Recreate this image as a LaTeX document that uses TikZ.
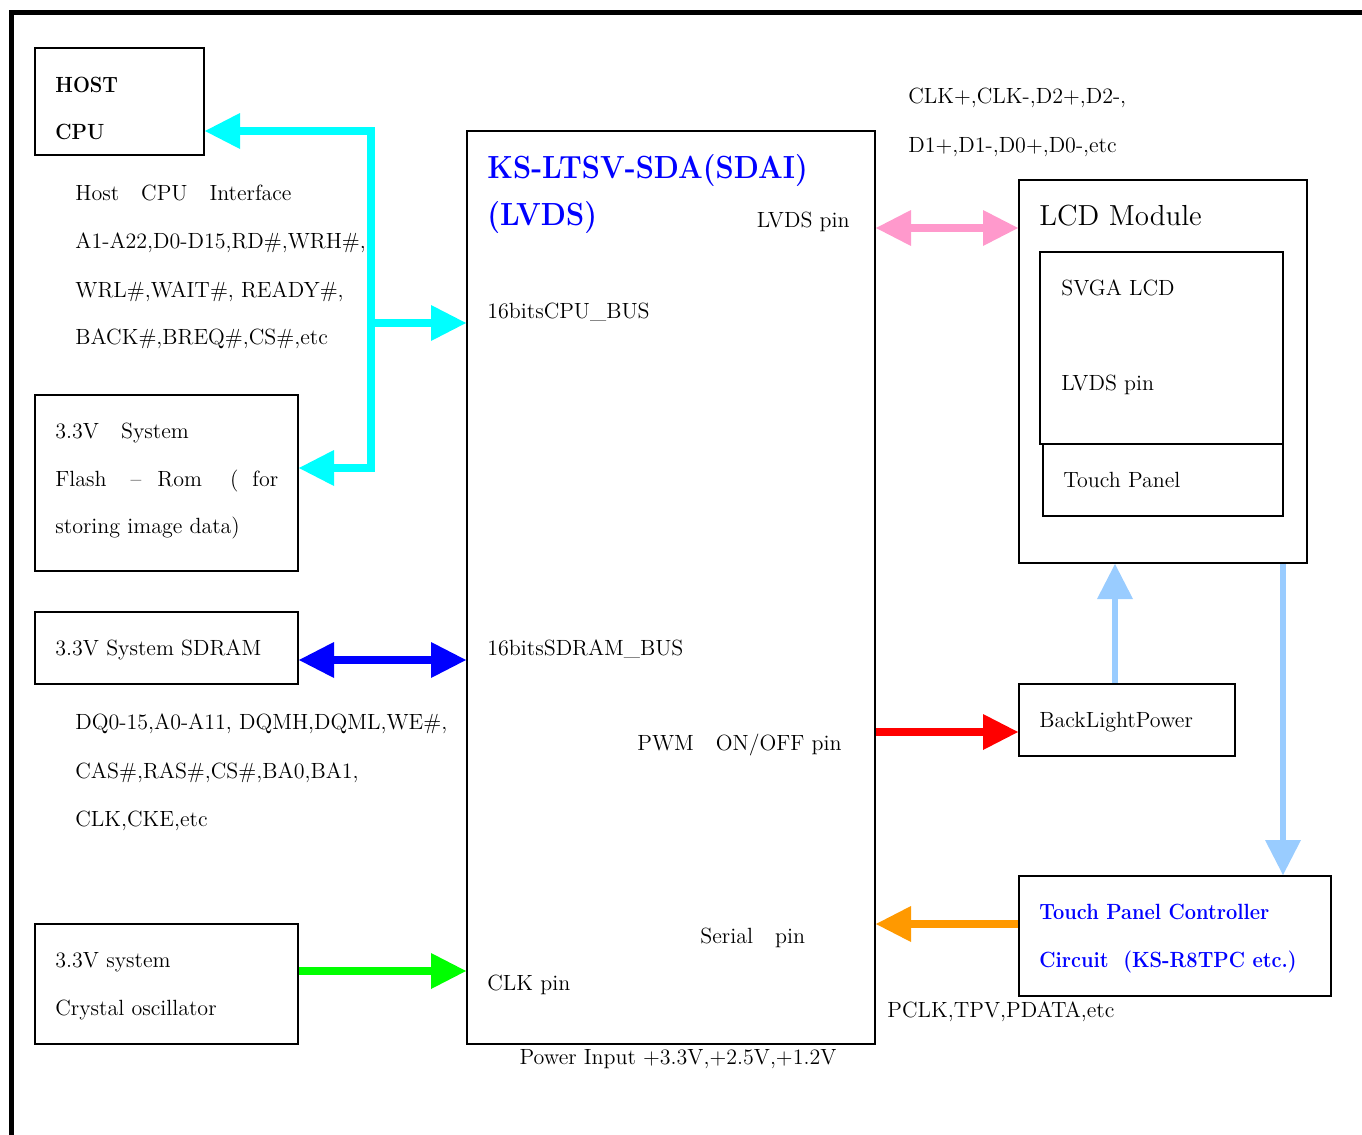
\documentclass[tikz,border=0pt]{standalone}
\usetikzlibrary{arrows.meta,fit}
\definecolor{busCyan}{HTML}{00FFFF}
\definecolor{busPink}{HTML}{FF99CC}
\definecolor{busBlue}{HTML}{0000FF}
\definecolor{busRed}{HTML}{FF0000}
\definecolor{busGreen}{HTML}{00FF00}
\definecolor{busOrange}{HTML}{FF9900}
\definecolor{busLight}{HTML}{99CCFF}
\newcommand{\narrow}[1]{\scalebox{0.91}[1]{#1}}
\begin{document}
\begin{tikzpicture}[x=0.5pt, y=-0.5pt, font=\fontsize{11}{13}\selectfont,
	box/.style={draw, line width=1pt, inner sep=0pt, fit={#1}},
	txt/.style={anchor=base west, inner sep=0pt},
	bold/.style={font=\fontsize{11}{13}\selectfont\bfseries},
	title/.style={text=busBlue, font=\fontsize{16}{18}\selectfont\bfseries},
	bigtip/.tip={Triangle[length=17.5pt, width=18pt, line width=0pt]},
	bus/.style={line width=4pt, color=#1}]
\useasboundingbox (0,0) rectangle (1362,1135);
\draw[line width=2.5pt] (11,1135) -- (11,12) -- (1362,12);

\node[box={(35,48) (204,155)}] (host) {};
\node[box={(35,395) (298,571)}] (flash) {};
\node[box={(35,612) (298,684)}] (sdram) {};
\node[box={(35,924) (298,1044)}] (xtal) {};
\node[box={(467,131) (875,1044)}] (sda) {};
\node[box={(1019,180) (1307,563)}] (lcd) {};
\node[box={(1040,252) (1283,444)}] (svga) {};
\node[box={(1043,444) (1283,516)}] (touch) {};
\node[box={(1019,684) (1235,756)}] (blight) {};
\node[box={(1019,876) (1331,996)}] (tpc) {};

\node[txt, bold] (hostA) at (55,92) {\narrow{HOST}};
\node[txt, bold] (hostB) at (55,139) {\narrow{CPU}};
\node[txt] (ifA) at (75,200) {Host\quad CPU\quad Interface};
\node[txt] (ifB) at (75,248) {A1-A22,D0-D15,RD\#,WRH\#,};
\node[txt] (ifC) at (75,297) {WRL\#,WAIT\#, READY\#,};
\node[txt] (ifD) at (75,344) {BACK\#,BREQ\#,CS\#,etc};
\node[txt] (flashA) at (55,438) {3.3V\quad System};
\node[txt] (flashB) at (55,486) {Flash\hspace{12pt}--\hspace{8pt}Rom\hspace{14pt}(\hspace{7pt}for};
\node[txt] (flashC) at (55,533) {storing image data)};
\node[txt] (sdramA) at (55,655) {3.3V System SDRAM};
\node[txt] (sigA) at (75,729) {DQ0-15,A0-A11, DQMH,DQML,WE\#,};
\node[txt] (sigB) at (75,778) {CAS\#,RAS\#,CS\#,BA0,BA1,};
\node[txt] (sigC) at (75,826) {CLK,CKE,etc};
\node[txt] (xtalA) at (55,967) {3.3V system};
\node[txt] (xtalB) at (55,1015) {Crystal oscillator};

\node[txt, title] (sdaA) at (487,178) {\narrow{KS-LTSV-SDA(SDAI)}};
\node[txt, title] (sdaB) at (487,225) {\narrow{(LVDS)}};
\node[txt, anchor=base east] (lvdsPin) at (850,227) {LVDS pin};
\node[txt] (cpuBus) at (487,318) {16bitsCPU\_BUS};
\node[txt] (sdramBus) at (487,655) {16bitsSDRAM\_BUS};
\node[txt] (pwmPin) at (637,750) {PWM\quad ON/OFF pin};
\node[txt] (serPin) at (700,943) {Serial\quad pin};
\node[txt] (clkPin) at (487,990) {CLK pin};
\node[txt, anchor=base] (power) at (678,1064) {Power Input +3.3V,+2.5V,+1.2V};

\node[txt] (lvdsA) at (908,104) {CLK+,CLK-,D2+,D2-,};
\node[txt] (lvdsB) at (908,152) {D1+,D1-,D0+,D0-,etc};
\node[txt, font=\fontsize{14.5}{16}\selectfont] (lcdT) at (1039,225) {LCD Module};
\node[txt] (svgaA) at (1061,295) {SVGA LCD};
\node[txt] (svgaB) at (1061,390) {LVDS pin};
\node[txt] (touchT) at (1063,487) {Touch Panel};
\node[txt] (blightT) at (1039,727) {BackLightPower};
\node[txt, bold, text=busBlue] (tpcA) at (1039,919) {\narrow{Touch Panel Controller}};
\node[txt, bold, text=busBlue] (tpcB) at (1039,967) {\narrow{Circuit\hspace{8pt}(KS-R8TPC etc.)}};
\node[txt] (tpSig) at (887,1017) {PCLK,TPV,PDATA,etc};

\coordinate (busTop) at (371,131);
\coordinate (busMid) at (371,323);
\coordinate (busBot) at (371,468);
\coordinate (lvdsRow) at (0,228);
\coordinate (sdramRow) at (0,660);
\coordinate (pwmRow) at (0,732);
\coordinate (serRow) at (0,924);
\coordinate (clkRow) at (0,971);
\coordinate (blCol) at (1115,0);
\coordinate (tpCol) at (1283,0);

\draw[bus=busCyan, -bigtip] (busBot) -- (busTop) -- (busTop -| host.east);
\draw[bus=busCyan, -bigtip] (busTop) -- (busBot) -- (busBot -| flash.east);
\draw[bus=busCyan, -bigtip] (busMid) -- (busMid -| sda.west);
\draw[bus=busPink, bigtip-bigtip] (sda.east |- lvdsRow) -- (lcd.west |- lvdsRow);
\draw[bus=busBlue, bigtip-bigtip] (sdram.east |- sdramRow) -- (sda.west |- sdramRow);
\draw[bus=busRed, -bigtip] (sda.east |- pwmRow) -- (blight.west |- pwmRow);
\draw[bus=busOrange, -bigtip] (tpc.west |- serRow) -- (sda.east |- serRow);
\draw[bus=busGreen, -bigtip] (xtal.east |- clkRow) -- (sda.west |- clkRow);
\draw[bus=busLight, line width=3pt, -bigtip] (blight.north -| blCol) -- (lcd.south -| blCol);
\draw[bus=busLight, line width=3pt, -bigtip] (lcd.south -| tpCol) -- (tpc.north -| tpCol);
\end{tikzpicture}
\end{document}
